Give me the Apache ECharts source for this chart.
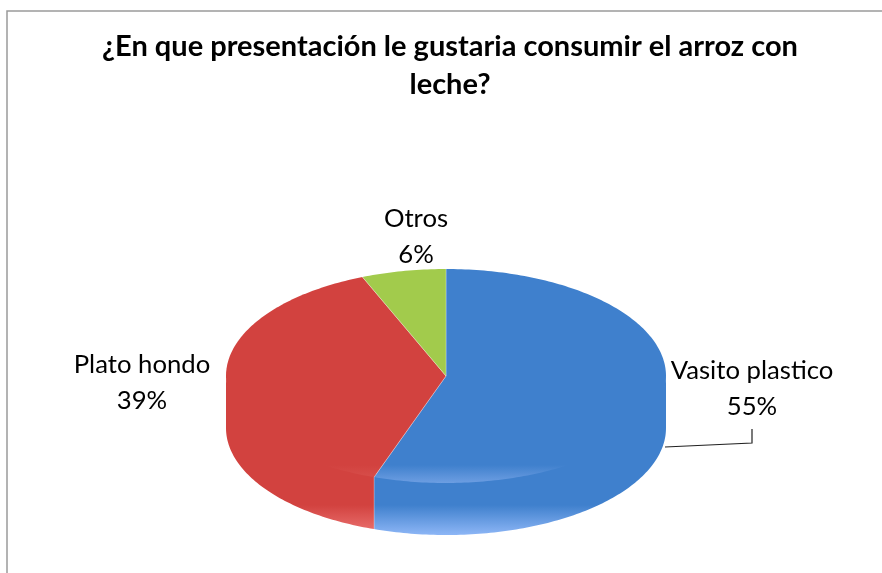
<!DOCTYPE html>
<html>
<head>
<meta charset="utf-8">
<style>
  html, body { margin: 0; padding: 0; background: #fff; }
  #main { width: 882px; height: 573px; }
</style>
</head>
<body>
<div id="main"></div>
<script src="https://cdn.jsdelivr.net/npm/echarts@6/dist/echarts.min.js"></script>
<script>
const titleText = '¿En que presentación le gustaria consumir el arroz con\nleche?';
const categories = ['Vasito plastico', 'Plato hondo', 'Otros'];
const values = [55.3, 38.5, 6.2]; // estimado del dibujo, etiquetas redondeadas a 55/39/6

// tapa + pared de la torta, echarts no trae pie 3D
const colors = ['#3F80CD', '#D2423F', '#A2CB4C'];
const wallEnd = ['#8DB6F6', '#EC7573', '#C0E070'];
const rimEnd = ['#6D9EE2', '#D9534F', '#A2CB4C'];
const labelPos = [[752, 389], [142, 383], [416, 237]];
const cx = 446, cy = 376, rx = 220, ry = 107, depth = 52;
const total = values.reduce((a, b) => a + b, 0);

// angulo en grados, 0 arriba y sentido horario
const pt = (deg, dy) => {
  const r = deg * Math.PI / 180;
  return [cx + rx * Math.sin(r), cy - ry * Math.cos(r) + dy];
};
const arc = (a0, a1, dy) => {
  const out = [];
  const n = Math.max(2, Math.ceil(Math.abs(a1 - a0) / 1));
  for (let i = 0; i <= n; i++) out.push(pt(a0 + (a1 - a0) * i / n, dy));
  return out;
};
const vGrad = (y0, y1, stops) => new echarts.graphic.LinearGradient(0, y0, 0, y1, stops, true);
const edge = 'rgba(255,255,255,0.4)';

function renderSlice(params, api) {
  const i = params.dataIndex;
  const val = api.value(0);
  let before = 0;
  for (let k = 0; k < i; k++) before += values[k];
  const a0 = before / total * 360;
  const a1 = (before + val) / total * 360;
  const children = [];

  const w0 = Math.max(a0, 90), w1 = Math.min(a1, 270);
  if (w1 > w0) {
    // la pared sube 3px bajo la tapa para que no quede costura
    children.push({
      type: 'polygon',
      shape: { points: arc(w0, w1, -3).concat(arc(w1, w0, depth)) },
      style: {
        fill: vGrad(cy + ry + 22, cy + ry + depth, [
          { offset: 0, color: colors[i] },
          { offset: 1, color: wallEnd[i] }
        ])
      }
    });
  }
  children.push({
    type: 'polygon',
    shape: { points: [[cx, cy]].concat(arc(a0, a1, 0)) },
    style: {
      fill: vGrad(cy + ry - 18, cy + ry, [
        { offset: 0, color: colors[i] },
        { offset: 1, color: rimEnd[i] }
      ])
    }
  });
  // solo los bordes rectos, el arco va sin linea
  children.push({
    type: 'polyline',
    shape: { points: [pt(a1, 0), [cx, cy], pt(a0, 0)] },
    style: { stroke: edge, lineWidth: 0.7, fill: null }
  });
  if (a0 > 90 && a0 < 270) {
    children.push({
      type: 'polyline',
      shape: { points: [pt(a0, 0), pt(a0, depth)] },
      style: { stroke: edge, lineWidth: 0.7, fill: null }
    });
  }
  children.push({
    type: 'text',
    x: labelPos[i][0],
    y: labelPos[i][1],
    style: {
      text: categories[i] + '\n' + Math.round(val) + '%',
      fill: '#000',
      fontSize: 25.7,
      fontFamily: 'Lato',
      lineHeight: 36,
      align: 'center',
      verticalAlign: 'middle'
    }
  });
  return { type: 'group', children: children };
}

var myChart = echarts.init(document.getElementById('main'));
myChart.setOption({
  animation: false,
  backgroundColor: '#fff',
  title: {
    text: titleText,
    left: 445,
    top: 23,
    textAlign: 'center',
    textStyle: {
      color: '#000',
      fontFamily: 'Lato',
      fontWeight: 'bold',
      fontSize: 29,
      lineHeight: 38
    }
  },
  graphic: [
    {
      type: 'polyline',
      shape: { points: [[7, 573], [7, 11], [882, 11]] },
      style: { stroke: '#9A9A9A', lineWidth: 1.5, fill: null }
    },
    {
      type: 'polyline',
      shape: { points: [[665, 447], [752, 443], [752, 429]] },
      style: { stroke: '#222', lineWidth: 1.2, fill: null }
    }
  ],
  series: [{
    type: 'custom',
    coordinateSystem: 'none',
    silent: true,
    clip: false,
    renderItem: renderSlice,
    data: values.map((v) => [v])
  }]
});
</script>
</body>
</html>
